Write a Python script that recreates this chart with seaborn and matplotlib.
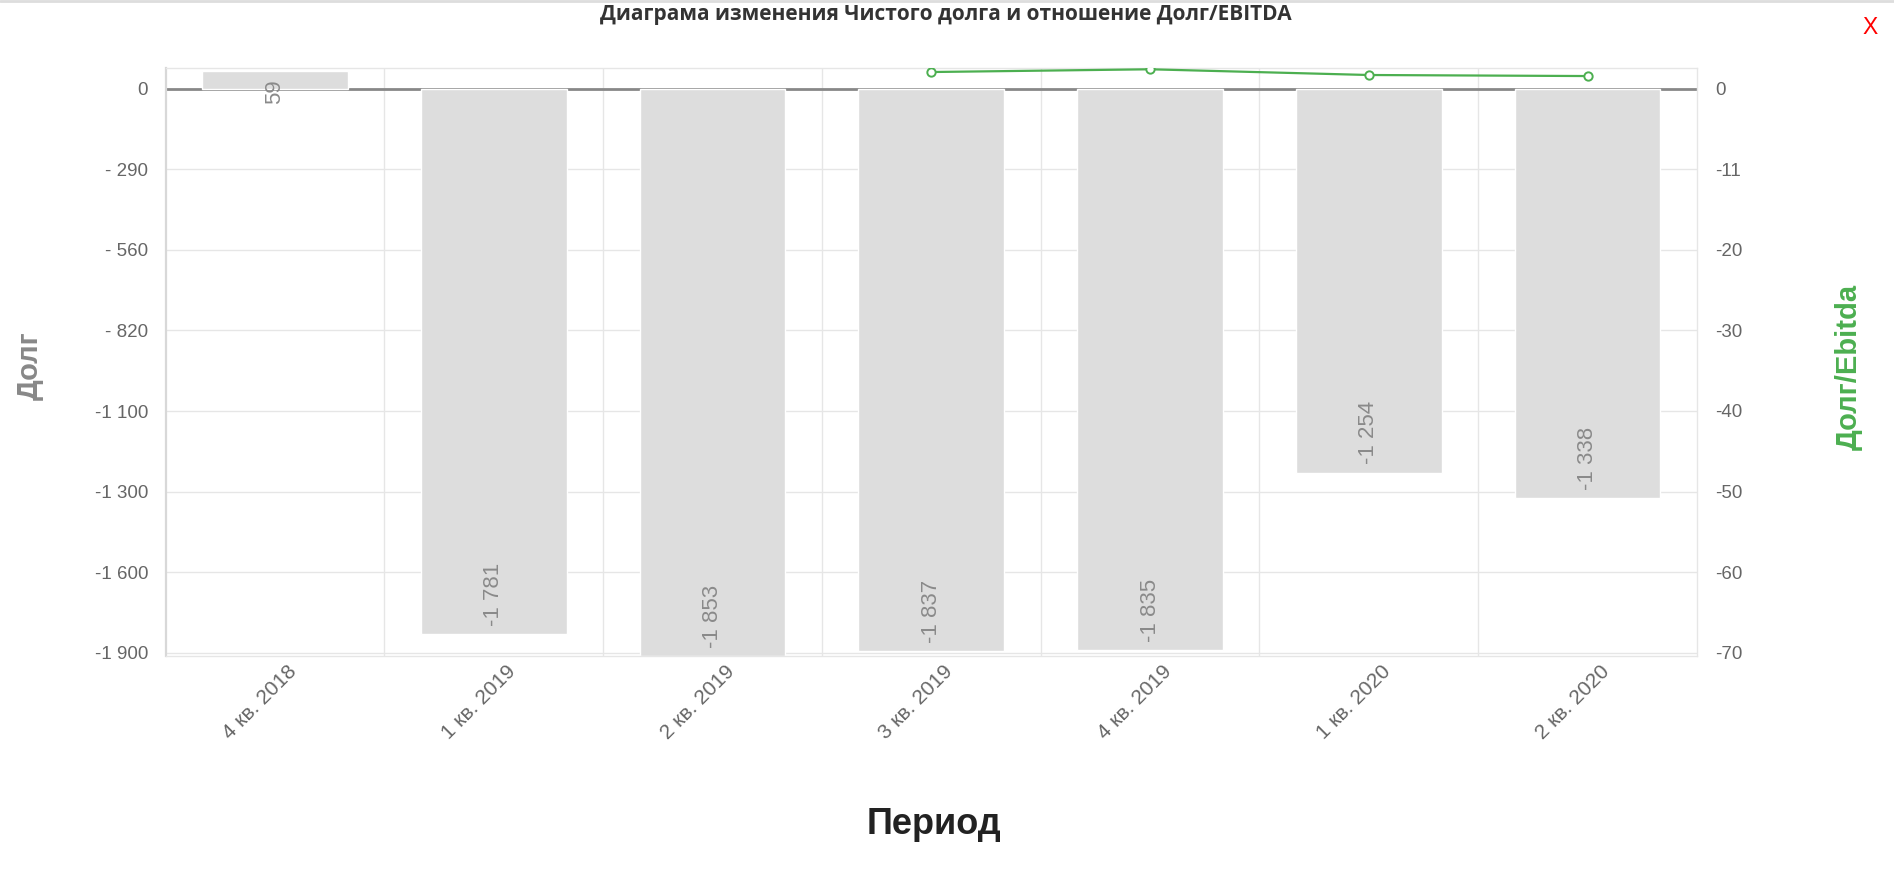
import numpy as np
import pandas as pd
import seaborn as sns
import matplotlib
matplotlib.use("Agg")
import matplotlib.pyplot as plt
import matplotlib.transforms as mtransforms
from matplotlib.lines import Line2D

# data
periods = ['4 кв. 2018', '1 кв. 2019', '2 кв. 2019', '3 кв. 2019',
           '4 кв. 2019', '1 кв. 2020', '2 кв. 2020']
net_debt = [59, -1781, -1853, -1837, -1835, -1254, -1338]
ratio_periods = ['3 кв. 2019', '4 кв. 2019', '1 кв. 2020', '2 кв. 2020']
debt_ebitda = [2.07, 2.41, 1.70, 1.57]
left_tick_labels = ['0', '- 290', '- 560', '- 820', '-1 100', '-1 300', '-1 600', '-1 900']
right_tick_labels = ['0', '-11', '-20', '-30', '-40', '-50', '-60', '-70']

sns.set_theme(style="white")
plt.rcParams['font.family'] = ['Liberation Sans', 'DejaVu Sans']

fig = plt.figure(figsize=(18.94, 8.77), dpi=100)
ax = fig.add_axes([0.0874, 0.252, 0.8086, 0.6701])

df = pd.DataFrame({"period": periods, "debt": net_debt})
sns.barplot(data=df, x="period", y="debt", color="#dddddd", saturation=1,
            width=0.666, ax=ax, zorder=2)
ax.axhline(0, color="#888888", lw=2, zorder=1.5)

# value labels inside bar ends, rotated
for i, v in enumerate(net_debt):
    txt = f"{v:,}".replace(",", " ")
    if v >= 0:
        ax.annotate(txt, (i, v), xytext=(0, -6), textcoords="offset points",
                    rotation=90, ha="center", va="top", fontsize=16,
                    color="#8a8a8a", zorder=3)
    else:
        ax.annotate(txt, (i, v), xytext=(0, 6), textcoords="offset points",
                    rotation=90, ha="center", va="bottom", fontsize=16,
                    color="#8a8a8a", zorder=3)

ax.set_xlim(-0.5, len(periods) - 0.5)
ax.set_ylim(-1853, 66.6)
left_ticks = np.arange(len(left_tick_labels)) * -263.2
ax.set_yticks(left_ticks)
ax.set_yticklabels(left_tick_labels)
ax.set_xticks(range(len(periods)))
ax.set_xticklabels(periods, rotation=45, ha="right", rotation_mode="anchor")
ax.set_xticks(np.arange(0.5, len(periods) - 1, 1), minor=True)
ax.grid(axis="y", color="#e6e6e6", lw=1)
ax.grid(axis="x", which="minor", color="#e6e6e6", lw=1)
ax.set_axisbelow(True)
ax.tick_params(axis="y", length=0, pad=12.5, labelsize=13.5, labelcolor="#666666")
ax.tick_params(axis="x", which="both", length=0, pad=4, labelsize=15, labelcolor="#666666")
offset = mtransforms.ScaledTranslation(12 / 100, 0, fig.dpi_scale_trans)
for lab in ax.get_xticklabels():
    lab.set_transform(lab.get_transform() + offset)
ax.set_xlabel("")
ax.set_ylabel("")
for side, sp in ax.spines.items():
    sp.set_color("#e6e6e6")
    sp.set_linewidth(1)
ax.spines["left"].set_color("#d8d8d8")
ax.spines["left"].set_linewidth(1.6)

# secondary axis: debt / EBITDA
ax2 = ax.twinx()
ratio_x = [periods.index(p) for p in ratio_periods]
line_df = pd.DataFrame({"x": ratio_x, "ratio": debt_ebitda})
sns.lineplot(data=line_df, x="x", y="ratio", ax=ax2, color="#4caf50", lw=1.6,
             marker="o", markersize=6, markerfacecolor="white",
             markeredgecolor="#4caf50", markeredgewidth=1.4)
ax2.set_ylim(-70.41, 2.53)
ax2.set_yticks(np.arange(0, -71, -10))
ax2.set_yticklabels(right_tick_labels)
ax2.set_xlim(-0.5, len(periods) - 0.5)
ax2.tick_params(axis="y", length=0, pad=13, labelsize=13.5, labelcolor="#666666")
ax2.set_ylabel("")
ax2.set_xlabel("")
ax2.grid(False)
for side, sp in ax2.spines.items():
    sp.set_visible(False)

# titles and axis names
fig.text(0.4995, 0.984, "Диаграма изменения Чистого долга и отношение Долг/EBITDA",
         ha="center", va="center", fontsize=15, fontweight="bold", color="#333333",
         family=["Open Sans", "DejaVu Sans"])
fig.text(0.9873, 0.9692, "X", ha="center", va="center", fontsize=16.5, color="#ff0000")
fig.text(0.0155, 0.5827, "Долг", rotation=90, ha="center", va="center",
         fontsize=21, fontweight="bold", color="#888888")
fig.text(0.9763, 0.5815, "Долг/Ebitda", rotation=90, ha="center", va="center",
         fontsize=21, fontweight="bold", color="#4caf50")
fig.text(0.4929, 0.0487, "Период", ha="center", va="baseline",
         fontsize=26, fontweight="bold", color="#222222")
fig.add_artist(Line2D([0, 1], [0.9985, 0.9985], color="#dddddd", lw=2,
                      transform=fig.transFigure))

fig.savefig("out.png", dpi=100)
